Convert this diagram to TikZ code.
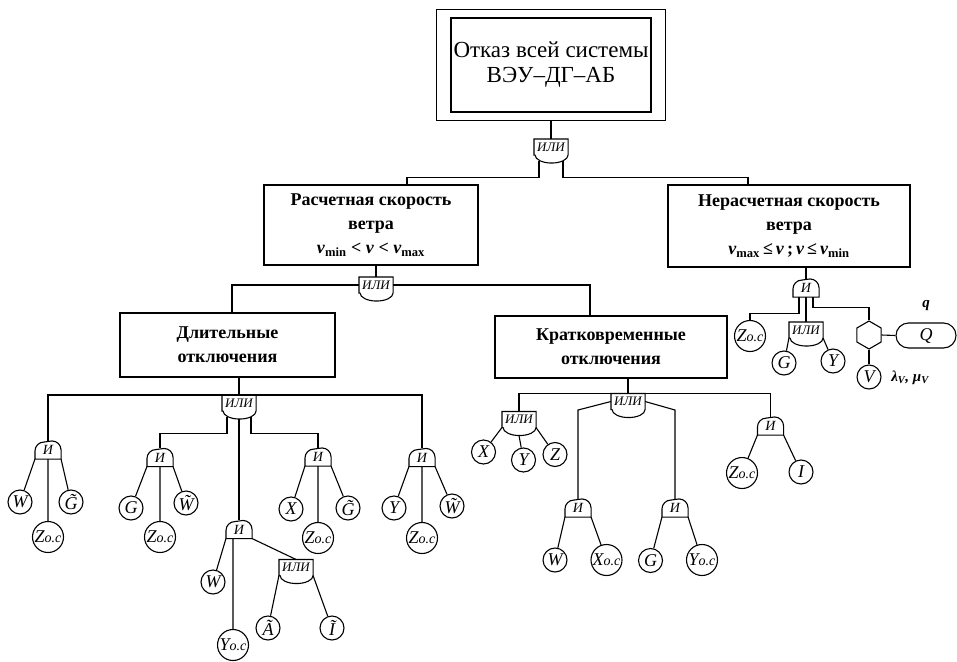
\documentclass[tikz,border=0pt]{standalone}
\usepackage{fontspec}
\setmainfont{Liberation Serif}
\usetikzlibrary{shapes.geometric,shapes.misc}
\newcommand\zoc[1]{\textit{#1}{\fontsize{14}{14}\selectfont\textit{o.c}}}
\newcommand\wtil[1]{\textit{#1^^^^0303}}
\newcommand\vb{\textbf{\textit{v}}}

\begin{document}
\begin{tikzpicture}[x=1pt,y=1pt,line width=1.1pt,
  bx/.style={draw,inner sep=0pt,align=center,font=\bfseries\fontsize{18}{24}\selectfont},
  orgate/.style={minimum width=33pt,minimum height=15pt,inner sep=0pt,font=\itshape\fontsize{13}{13}\selectfont},
  andgate/.style={minimum width=25pt,minimum height=17pt,inner sep=0pt,font=\itshape\fontsize{14}{14}\selectfont},
  ev/.style={draw,circle,minimum size=24pt,inner sep=0pt,font=\itshape\fontsize{18}{18}\selectfont},
  evbig/.style={ev,minimum size=31pt}]
\useasboundingbox (0,0) rectangle (957,-661);
% top event
\node[draw,minimum width=200pt,minimum height=94pt,inner sep=0pt,align=center,
  font=\fontsize{23}{25}\selectfont] (top) at (551,-65) {Отказ всей системы\\ВЭУ–ДГ–АБ};
\draw ([shift={(-14,8)}]top.north west) rectangle ([shift={(14,-8)}]top.south east);
\node[orgate] (or0) at (551,-147) {ИЛИ};
% wind speed
\node[bx,minimum width=214pt,minimum height=80pt] (ras) at (371,-225)
  {Расчетная скорость\\ветра\\\vb\textsubscript{min} < \vb{} < \vb\textsubscript{max}};
\node[bx,minimum width=242pt,minimum height=82pt] (ner) at (789,-226)
  {Нерасчетная скорость\\ветра\\\vb\textsubscript{max}\,≤\,\vb\,;\,\vb\,≤\,\vb\textsubscript{min}};
\node[orgate] (or1) at (376,-285) {ИЛИ};
\node[bx,minimum width=215pt,minimum height=64pt] (dl) at (227.5,-345) {Длительные\\отключения};
\node[bx,minimum width=232pt,minimum height=62pt] (kr) at (611,-347) {Кратковременные\\отключения};
% right branch
\node[andgate] (a0) at (806,-288) {И};
\node[evbig] (z1) at (750,-336) {\zoc{Z}};
\node[orgate] (or5) at (806,-330) {ИЛИ};
\node[ev] (g5) at (784,-363) {G};
\node[ev] (y5) at (833,-361) {Y};
\node[draw,regular polygon,regular polygon sides=6,shape border rotate=30,
  minimum size=28pt,inner sep=0pt] (hex) at (869,-335) {};
\node[draw,rounded rectangle,minimum width=60pt,minimum height=25pt,inner sep=0pt,
  font=\itshape\fontsize{18}{18}\selectfont] (qb) at (926,-335.5) {Q};
\node[font=\bfseries\itshape\fontsize{15}{15}\selectfont] (ql) at (926,-306) {q};
\node[ev] (vv) at (869,-377) {V};
\node[font=\bfseries\itshape\fontsize{15}{15}\selectfont] (lm) at (910,-378) {λ\textsubscript{V}, μ\textsubscript{V}};
% long outages
\node[orgate] (or2) at (239,-403) {ИЛИ};
\node[andgate] (a1) at (48,-450) {И};
\node[andgate] (a2) at (160,-457.5) {И};
\node[andgate] (a3) at (318,-457) {И};
\node[andgate] (a4) at (422,-457.5) {И};
\node[andgate] (a5) at (239,-529.5) {И};
\node[orgate] (or6) at (296,-567.5) {ИЛИ};
\node[ev] (w1) at (20,-502) {W};
\node[evbig] (z2) at (48,-537) {\zoc{Z}};
\node[ev] (gt1) at (71,-502) {\wtil{G}};
\node[ev] (g2) at (131,-508) {G};
\node[evbig] (z3) at (160,-537) {\zoc{Z}};
\node[ev] (wt2) at (186,-503) {\wtil{W}};
\node[ev] (x3) at (291,-509) {X};
\node[evbig] (z4) at (318,-538) {\zoc{Z}};
\node[ev] (gt3) at (348,-508) {\wtil{G}};
\node[ev] (y4) at (394,-508) {Y};
\node[evbig] (z5) at (422,-538) {\zoc{Z}};
\node[ev] (wt4) at (452,-506) {\wtil{W}};
\node[ev] (w5) at (213,-582) {W};
\node[evbig] (yoc5) at (233,-645) {\zoc{Y}};
\node[ev] (at6) at (268,-628) {\wtil{A}};
\node[ev] (it6) at (332,-628) {\wtil{I}};
% short outages
\node[orgate] (or3) at (628,-401.5) {ИЛИ};
\node[orgate] (or4) at (519,-419.5) {ИЛИ};
\node[andgate] (a6) at (770.5,-426) {И};
\node[andgate] (a7) at (578,-508) {И};
\node[andgate] (a8) at (675,-508) {И};
\coordinate (lvl) at (0,-410);
\node[ev] (x4) at (483.5,-452) {X};
\node[ev] (yb4) at (523.5,-460) {Y};
\node[ev] (zb4) at (555,-454.5) {Z};
\node[evbig] (z6) at (742,-473) {\zoc{Z}};
\node[ev] (i6) at (801,-472) {I};
\node[ev] (w7) at (555,-560) {W};
\node[evbig] (xoc7) at (606.5,-560) {\zoc{X}};
\node[ev] (g8) at (650.5,-560.5) {G};
\node[evbig] (yoc8) at (702,-560) {\zoc{Y}};
% connectors
\draw ([yshift=-8]top.south) -- (or0.north);
\draw ([shift={(-12,-5.5)}]or0.south) -- ++(0,-17) -| ([xshift=36]ras.north);
\draw ([shift={(12,-5.5)}]or0.south) -- ++(0,-17) -| ([xshift=-41]ner.north);
\draw ([xshift=5]ras.south) -- (or1.north);
\draw (or1.west) -| ([xshift=4.5]dl.north);
\draw (or1.east) -| ([xshift=-21]kr.north);
\draw ([xshift=17]ner.south) -- (a0.north);
\draw ([xshift=-7]a0.south) -- ++(0,-16) -| (z1.north);
\draw (a0.south) -- (or5.north);
\draw ([xshift=7]a0.south) -- ++(0,-10) -| (hex.north);
\draw (or5.south west) -- (g5) (or5.south east) -- (y5);
\draw (hex.east) -- (qb.west);
\draw (hex.south) -- (vv.north);
\draw ([xshift=11.5]dl.south) -- (or2.north);
\draw (a1.north) |- (or2.north) -| (a4.north);
\draw ([shift={(-12,-5.5)}]or2.south) -- ++(0,-17) -| (a2.north);
\draw ([shift={(12,-5.5)}]or2.south) -- ++(0,-17) -| (a3.north);
\draw ([yshift=-8]or2.south) -- (a5.north);
\foreach \g/\l/\m/\r in {a1/w1/z2/gt1, a2/g2/z3/wt2, a3/x3/z4/gt3, a4/y4/z5/wt4}
  \draw (\g.south west) -- (\l) (\g.south) -- (\m) (\g.south east) -- (\r);
\draw (a5.south west) -- (w5) ([xshift=-6]a5.south) -- (yoc5) (a5.south east) -- (or6.north);
\draw (or6.south west) -- (at6) (or6.south east) -- (it6);
\draw ([xshift=17]kr.south) -- (or3.north);
\draw (or4.north) |- (or3.north) -| (a6.north);
\draw (or3.west) -- (a7.north |- lvl) -- (a7.north);
\draw (or3.east) -- (a8.north |- lvl) -- (a8.north);
\draw (or4.south west) -- (x4) ([yshift=-8]or4.south) -- (yb4) (or4.south east) -- (zb4);
\draw (a6.south west) -- (z6) (a6.south east) -- (i6);
\draw (a7.south west) -- (w7) (a7.south east) -- (xoc7);
\draw (a8.south west) -- (g8) (a8.south east) -- (yoc8);
% gate outlines
\foreach \g in {a0,a1,a2,a3,a4,a5,a6,a7,a8}
  \draw (\g.south west) -- ++(0,8) arc[start angle=180,end angle=90,radius=9]
    -- ([xshift=-9]\g.north east) arc[start angle=90,end angle=0,radius=9] -- (\g.south east) -- cycle;
\foreach \g in {or0,or1,or2,or3,or4,or5,or6}
  \draw (\g.south west) -- (\g.north west) -- (\g.north east) -- (\g.south east)
    arc[start angle=0,end angle=-180,x radius=16.5,y radius=8] -- cycle;
\end{tikzpicture}
\end{document}
